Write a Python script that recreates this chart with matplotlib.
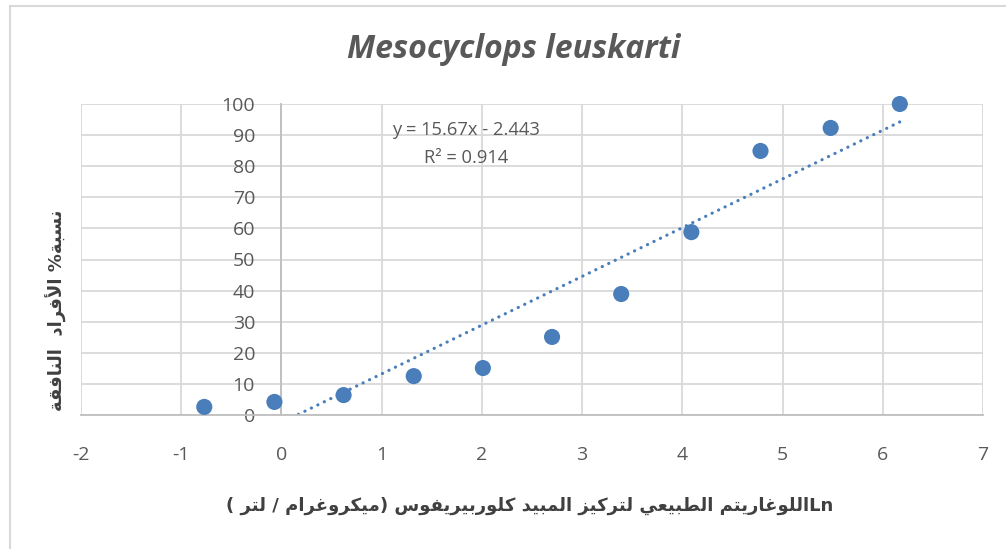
import matplotlib
matplotlib.use("Agg")
import matplotlib.pyplot as plt
import numpy as np
import re

# ---------------- data ----------------
ln_conc = [-0.77, -0.07, 0.62, 1.32, 2.01, 2.70, 3.39, 4.09, 4.78, 5.48, 6.17]
mortality = [2.6, 4.2, 6.4, 12.5, 15.1, 25.1, 38.9, 58.8, 84.9, 92.3, 100.0]
trend_slope = 15.67
trend_intercept = -2.443
r_squared = 0.914
x_ticks = [-2, -1, 0, 1, 2, 3, 4, 5, 6, 7]
y_ticks = [0, 10, 20, 30, 40, 50, 60, 70, 80, 90, 100]
title_text = "Mesocyclops leuskarti"
xlabel_logical = "Lnاللوغاريتم الطبيعي لتركيز المبيد كلوربيريفوس (ميكروغرام / لتر )"
ylabel_logical = "نسبة% الأفراد  النافقة"

# ---------------- minimal Arabic shaping + RTL ordering ----------------
FORMS = {
    '\u0627': ('\uFE8D', '\uFE8E', None, None),
    '\u0623': ('\uFE83', '\uFE84', None, None),
    '\u0628': ('\uFE8F', '\uFE90', '\uFE91', '\uFE92'),
    '\u0629': ('\uFE93', '\uFE94', None, None),
    '\u062A': ('\uFE95', '\uFE96', '\uFE97', '\uFE98'),
    '\u062F': ('\uFEA9', '\uFEAA', None, None),
    '\u0631': ('\uFEAD', '\uFEAE', None, None),
    '\u0632': ('\uFEAF', '\uFEB0', None, None),
    '\u0633': ('\uFEB1', '\uFEB2', '\uFEB3', '\uFEB4'),
    '\u0637': ('\uFEC1', '\uFEC2', '\uFEC3', '\uFEC4'),
    '\u0639': ('\uFEC9', '\uFECA', '\uFECB', '\uFECC'),
    '\u063A': ('\uFECD', '\uFECE', '\uFECF', '\uFED0'),
    '\u0641': ('\uFED1', '\uFED2', '\uFED3', '\uFED4'),
    '\u0642': ('\uFED5', '\uFED6', '\uFED7', '\uFED8'),
    '\u0643': ('\uFED9', '\uFEDA', '\uFEDB', '\uFEDC'),
    '\u0644': ('\uFEDD', '\uFEDE', '\uFEDF', '\uFEE0'),
    '\u0645': ('\uFEE1', '\uFEE2', '\uFEE3', '\uFEE4'),
    '\u0646': ('\uFEE5', '\uFEE6', '\uFEE7', '\uFEE8'),
    '\u0648': ('\uFEED', '\uFEEE', None, None),
    '\u064A': ('\uFEF1', '\uFEF2', '\uFEF3', '\uFEF4'),
}
LAM_ALEF = {'\u0627': ('\uFEFB', '\uFEFC'), '\u0623': ('\uFEF7', '\uFEF8')}


def _dual(c):
    return c in FORMS and FORMS[c][2] is not None


def shape(s):
    out = []
    i = 0
    prev_joins = False
    while i < len(s):
        c = s[i]
        if c == '\u0644' and i + 1 < len(s) and s[i + 1] in LAM_ALEF:
            iso, fin = LAM_ALEF[s[i + 1]]
            out.append(fin if prev_joins else iso)
            prev_joins = False
            i += 2
            continue
        if c in FORMS:
            f = FORMS[c]
            nxt = s[i + 1] if i + 1 < len(s) else ''
            jn = _dual(c) and nxt in FORMS
            if prev_joins and jn:
                g = f[3]
            elif prev_joins:
                g = f[1]
            elif jn:
                g = f[2]
            else:
                g = f[0]
            out.append(g)
            prev_joins = _dual(c)
        else:
            out.append(c)
            prev_joins = False
        i += 1
    return ''.join(out)


def rtl_visual(s):
    t = shape(s)[::-1]
    t = re.sub(r'[A-Za-z0-9.]+', lambda m: m.group(0)[::-1], t)
    t = t.translate(str.maketrans('()', ')('))
    return t


# ---------------- figure ----------------
W, H = 1006, 549
fig = plt.figure(figsize=(W / 100, H / 100), dpi=100)
fig.patch.set_facecolor('white')

# chart outer border (left & top visible)
fig.add_artist(plt.Line2D([9.5 / W, 9.5 / W], [0, 1 - 5.5 / H], color='#d9d9d9', lw=1.5))
fig.add_artist(plt.Line2D([9.5 / W, 1.0], [1 - 5.5 / H, 1 - 5.5 / H], color='#d9d9d9', lw=1.5))

ax = fig.add_axes([81 / W, 1 - 415 / H, (983 - 81) / W, (415 - 104) / H])
ax.set_xlim(x_ticks[0], x_ticks[-1])
ax.set_ylim(y_ticks[0], y_ticks[-1])
ax.set_xticks(x_ticks)
ax.set_yticks(y_ticks)

grid_c = '#d9d9d9'
ax.grid(True, color=grid_c, lw=1.3, zorder=0)
ax.set_axisbelow(True)
for sp in ['top', 'right']:
    ax.spines[sp].set_visible(False)
ax.spines['left'].set_position(('data', 0))
ax.spines['left'].set_color('#bfbfbf')
ax.spines['left'].set_linewidth(1.3)
ax.spines['bottom'].set_color('#bfbfbf')
ax.spines['bottom'].set_linewidth(1.3)

tick_font = dict(family='Open Sans', size=14, color='#595959')
ax.tick_params(axis='both', length=0)
ax.tick_params(axis='y', pad=19)
ax.tick_params(axis='x', pad=22)
ax.set_xticklabels([str(v) for v in x_ticks], **tick_font)
ax.set_yticklabels([str(v) for v in y_ticks], **tick_font)

# trendline
xt = np.linspace(min(ln_conc), max(ln_conc), 400)
yt = trend_slope * xt + trend_intercept
mask = yt >= 0
ax.plot(xt[mask], yt[mask], color='#4a7ebb', lw=2.3,
        linestyle=(0, (0.05, 2.2)), dash_capstyle='round', zorder=2)

# data points
ax.scatter(ln_conc, mortality, s=135, color='#4a7ebb', edgecolors='none', zorder=3, clip_on=False)

# equation
pix = lambda x, y: (x / W, 1 - y / H)
fig.text(*pix(466, 130), f"y = {trend_slope}x - {abs(trend_intercept)}", ha='center', va='center',
         family='Open Sans', size=13.2, color='#595959')
fig.text(*pix(466, 158), f"R² = {r_squared}", ha='center', va='center',
         family='Open Sans', size=13.2, color='#595959')

# title
fig.text(*pix(514, 50), title_text, ha='center', va='center', family='Open Sans',
         style='italic', weight='bold', size=23, color='#595959')

# axis labels
lab_c = '#404040'
fig.text(*pix(530, 506), rtl_visual(xlabel_logical), ha='center', va='center',
         family=['DejaVu Sans'], weight='bold', size=13, color=lab_c)
fig.text(*pix(56, 310), rtl_visual(ylabel_logical), ha='center', va='center', rotation=90,
         family=['DejaVu Sans'], weight='bold', size=13, color=lab_c)

fig.savefig('out.png', dpi=100, facecolor='white')
